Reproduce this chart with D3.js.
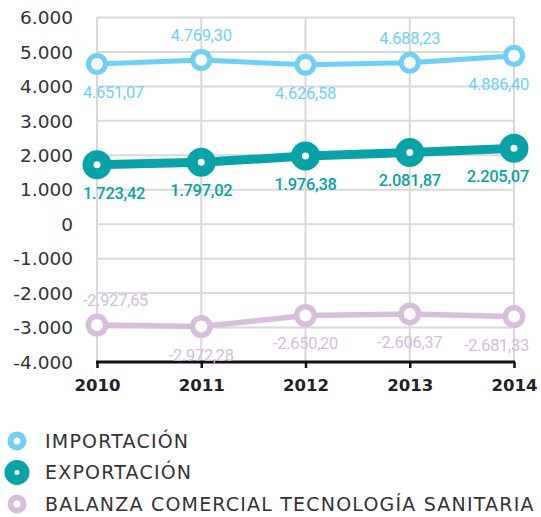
<!DOCTYPE html>
<html>
<head>
<meta charset="utf-8">
<script src="https://cdn.jsdelivr.net/npm/d3@7"></script>
<style>
  body { margin: 0; background: #fff; }
  svg { display: block; }
</style>
</head>
<body>
<div id="chart"></div>
<script>
// data
const years = ["2010", "2011", "2012", "2013", "2014"];
const importacion = [4651.07, 4769.30, 4626.58, 4688.23, 4886.40];
const exportacion = [1723.42, 1797.02, 1976.38, 2081.87, 2205.07];
const balanza = [-2927.65, -2972.28, -2650.20, -2606.37, -2681.33];
const yTicks = [6000, 5000, 4000, 3000, 2000, 1000, 0, -1000, -2000, -3000, -4000];
const seriesNames = ["IMPORTACIÓN", "EXPORTACIÓN", "BALANZA COMERCIAL TECNOLOGÍA SANITARIA"];
// where each value label sits: a = above, b = below
const importLabelPos = ["b", "a", "b", "a", "b"];
const exportLabelPos = ["b", "b", "b", "b", "b"];
const balanzaLabelPos = ["a", "b", "b", "b", "b"];

const width = 541, height = 517;
const margin = { top: 17.5, left: 97, right: 27, bottom: 155 };

const svg = d3.select("#chart").append("svg")
  .attr("width", width)
  .attr("height", height);

const x = d3.scalePoint()
  .domain(years)
  .range([margin.left, width - margin.right]);

const y = d3.scaleLinear()
  .domain([-4000, 6000])
  .range([height - margin.bottom, margin.top]);

const fmt = v => {
  const s = d3.format(",.2f")(v);
  return s.replace(/,/g, "#").replace(".", ",").replace(/#/g, ".").replace("−", "-");
};
const fmtTick = v => d3.format(",")(v).replace(/,/g, ".").replace("−", "-");

// grid
svg.append("g")
  .selectAll("line.h")
  .data(yTicks)
  .join("line")
  .attr("x1", x.range()[0])
  .attr("x2", x.range()[1])
  .attr("y1", d => y(d))
  .attr("y2", d => y(d))
  .attr("stroke", "#d9d9d9")
  .attr("stroke-width", 2);

svg.append("g")
  .selectAll("line.v")
  .data(years)
  .join("line")
  .attr("x1", d => x(d))
  .attr("x2", d => x(d))
  .attr("y1", y(6000))
  .attr("y2", y(-4000))
  .attr("stroke", "#d9d9d9")
  .attr("stroke-width", 2);

// y labels
svg.append("g")
  .selectAll("text")
  .data(yTicks)
  .join("text")
  .attr("x", 73)
  .attr("y", d => y(d))
  .attr("dy", "0.36em")
  .attr("text-anchor", "end")
  .attr("font-family", "DejaVu Sans")
  .attr("font-size", 18.5)
  .attr("fill", "#333")
  .text(fmtTick);

// x axis
const xAxis = svg.append("g")
  .attr("transform", `translate(0,${y(-4000)})`)
  .call(d3.axisBottom(x).tickSize(6).tickSizeOuter(0));
xAxis.select(".domain").attr("stroke", "#111").attr("stroke-width", 3)
  .attr("d", `M${x.range()[0] - 1},0H${x.range()[1] + 1}`);
xAxis.selectAll(".tick line").attr("stroke", "#111").attr("stroke-width", 2.5);
xAxis.selectAll(".tick text")
  .attr("y", 17)
  .attr("dy", "0.72em")
  .attr("font-family", "DejaVu Sans")
  .attr("font-weight", "bold")
  .attr("font-size", 16.5)
  .attr("fill", "#222");

const series = [
  { name: seriesNames[0], values: importacion, pos: importLabelPos, color: "#6fd0f6", labelColor: "#6fd0f6", line: 5, r: 8.5, sw: 5, weight: 400 },
  { name: seriesNames[1], values: exportacion, pos: exportLabelPos, color: "#08a3a6", labelColor: "#08a3a6", line: 9, r: 9, sw: 11, weight: 500 },
  { name: seriesNames[2], values: balanza, pos: balanzaLabelPos, color: "#d7bfdc", labelColor: "#d4bcdb", line: 5.5, r: 8.75, sw: 5.5, weight: 400 }
];
const drawOrder = [series[2], series[0], series[1]];

const line = d3.line()
  .x((d, i) => x(years[i]))
  .y(d => y(d));

drawOrder.forEach(s => {
  svg.append("path")
    .datum(s.values)
    .attr("fill", "none")
    .attr("stroke", s.color)
    .attr("stroke-width", s.line)
    .attr("d", line);
});

drawOrder.forEach(s => {
  svg.append("g")
    .selectAll("circle")
    .data(s.values)
    .join("circle")
    .attr("cx", (d, i) => x(years[i]))
    .attr("cy", d => y(d))
    .attr("r", s.r)
    .attr("fill", "#fff")
    .attr("stroke", s.color)
    .attr("stroke-width", s.sw);
});

// value labels
const labelMin = 83, labelMax = 529;
series.forEach(s => {
  svg.append("g")
    .selectAll("text")
    .data(s.values)
    .join("text")
    .attr("x", (d, i) => x(years[i]))
    .attr("y", (d, i) => y(d) + (s.pos[i] === "a" ? -25 : 28))
    .attr("dy", "0.36em")
    .attr("text-anchor", "middle")
    .attr("font-family", "Roboto")
    .attr("font-weight", s.weight)
    .attr("font-size", 16.5)
    .attr("letter-spacing", -0.3)
    .attr("fill", s.labelColor)
    .text(fmt)
    .each(function () {
      const t = d3.select(this);
      const w = this.getComputedTextLength();
      const cx = +t.attr("x");
      if (cx - w / 2 < labelMin) t.attr("x", labelMin + w / 2);
      if (cx + w / 2 > labelMax) t.attr("x", labelMax - w / 2);
    });
});

// legend
const legend = svg.append("g");
const legendY = d3.scalePoint().domain(seriesNames).range([441, 504]);
legend.selectAll("circle")
  .data(series)
  .join("circle")
  .attr("cx", 17)
  .attr("cy", d => legendY(d.name))
  .attr("r", d => d.name === seriesNames[1] ? 7.5 : 6.5)
  .attr("fill", "#fff")
  .attr("stroke", d => d.color)
  .attr("stroke-width", d => d.name === seriesNames[1] ? 10 : 6);
legend.selectAll("text")
  .data(series)
  .join("text")
  .attr("x", 45)
  .attr("y", d => legendY(d.name))
  .attr("dy", "0.36em")
  .attr("font-family", "DejaVu Sans")
  .attr("font-size", 19)
  .attr("letter-spacing", 1.2)
  .attr("fill", "#333")
  .text(d => d.name);
</script>
</body>
</html>
